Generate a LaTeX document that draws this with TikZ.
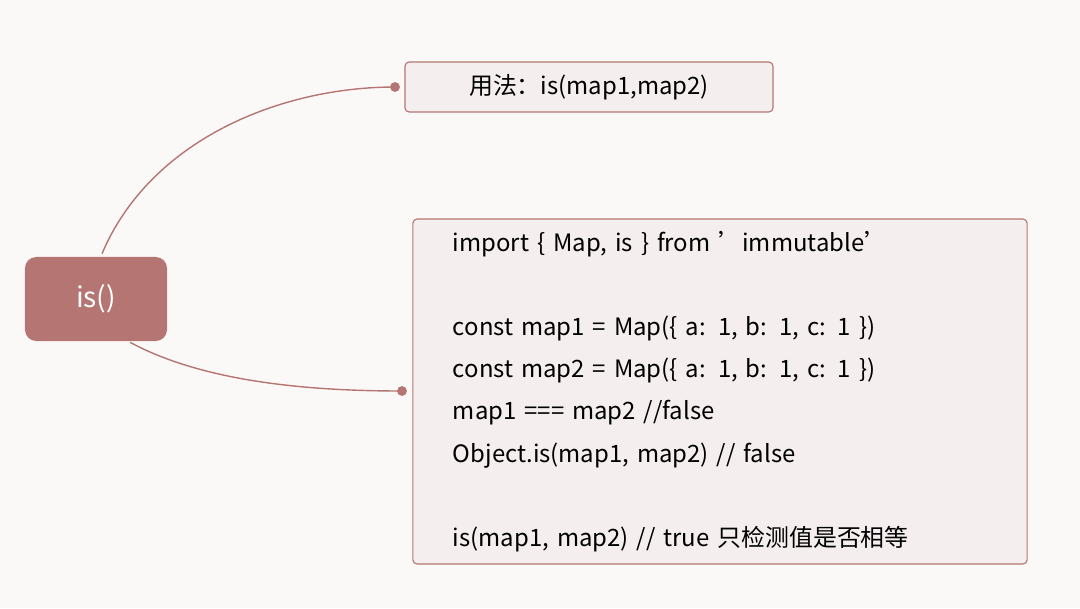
\documentclass[tikz,border=0pt]{standalone}
\usepackage{fontspec}
\setmainfont{Noto Sans CJK SC}
\definecolor{bgcolor}{HTML}{FBF9F8}
\definecolor{rootcolor}{HTML}{B57572}
\definecolor{leafcolor}{HTML}{F4EEEE}
\tikzset{
  rootbox/.style={fill=rootcolor, rounded corners=8pt, text=white, minimum width=3.55cm, minimum height=2.1cm, font=\fontsize{20}{24}\selectfont},
  leafbox/.style={draw=rootcolor, fill=leafcolor, rounded corners=3pt, line width=0.8pt, font=\fontsize{17}{30}\selectfont},
  branch/.style={rootcolor, line width=1pt},
  tipdot/.style={circle, fill=rootcolor, inner sep=0pt, minimum size=7pt}
}
\begin{document}
\begin{tikzpicture}[x=0.025cm,y=-0.025cm]
    \fill[bgcolor] (0,0) rectangle (1080,608);
    \useasboundingbox (0,0) rectangle (1080,608);

    % root
    \node[rootbox] (root) at (96,299) {is()};

    % usage
    \node[leafbox, minimum width=9.2cm, minimum height=1.25cm] (usage) at (589,87) {用法：is(map1,map2)};

    % example code
    \node[leafbox, text width=13.35cm, inner xsep=1cm, minimum height=8.625cm, align=left] (code) at (720,391.5) {
        import \{ Map, is \} from 'immutable'\\[30pt]
        const map1 = Map(\{ a: 1, b: 1, c: 1 \})\\
        const map2 = Map(\{ a: 1, b: 1, c: 1 \})\\
        map1 === map2 //false\\
        Object.is(map1, map2) // false\\[30pt]
        is(map1, map2) // true 只检测值是否相等
    };

    % connectors
    \node[tipdot] (d1) at (395,87) {};
    \node[tipdot] (d2) at (402,391) {};
    \draw[branch] (root.north) ++(6,-3) coordinate (s1) .. controls (150,140) and (280,87) .. (d1.center);
    \draw[branch] (root.south) ++(34,1) coordinate (s2) .. controls (200,380) and (300,391) .. (d2.center);
\end{tikzpicture}
\end{document}
